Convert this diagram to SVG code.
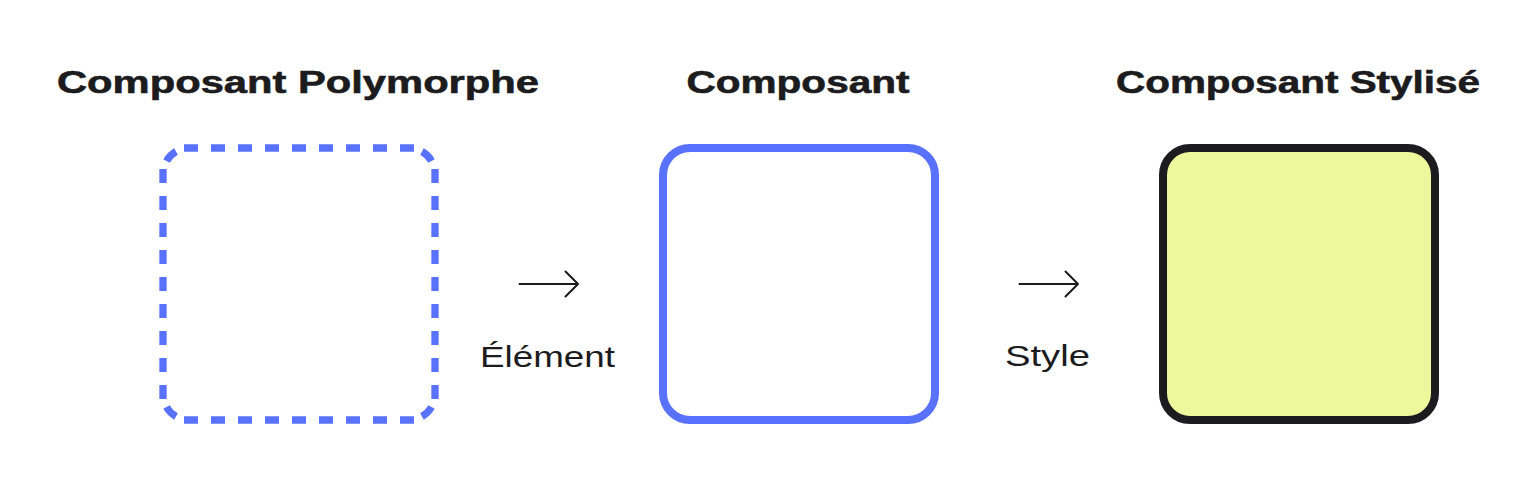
<svg xmlns="http://www.w3.org/2000/svg" width="1540" height="480" viewBox="0 0 1540 480">
  <style>
    .title { font-family: "Liberation Sans", Arial, sans-serif; font-weight: bold; font-size: 32px; fill: #1c1b1d; stroke: #1c1b1d; stroke-width: 0.6; text-anchor: middle; }
    .label { font-family: "Liberation Sans", Arial, sans-serif; font-size: 30px; fill: #1c1b1d; text-anchor: middle; }
    .dash { stroke: #5871ff; stroke-width: 7.3; fill: none; stroke-dasharray: 14 13; }
    .dashc { stroke: #5871ff; stroke-width: 7.3; fill: none; }
    .arrow { stroke: #1c1b1d; stroke-width: 2; fill: none; stroke-linecap: round; stroke-linejoin: round; }
  </style>
  <rect width="1540" height="480" fill="#ffffff"/>

  <g id="node-polymorphe">
    <text class="title" x="298" y="92.5" textLength="482" lengthAdjust="spacingAndGlyphs">Composant Polymorphe</text>
    <line class="dash" x1="184" y1="148" x2="414" y2="148"/>
    <line class="dash" x1="184" y1="420" x2="414" y2="420"/>
    <line class="dash" x1="163" y1="169" x2="163" y2="399"/>
    <line class="dash" x1="435" y1="169" x2="435" y2="399"/>
    <path class="dashc" d="M166.48,161 A26,26 0 0 1 176,151.48"/>
    <path class="dashc" d="M422,151.48 A26,26 0 0 1 431.52,161"/>
    <path class="dashc" d="M431.52,407 A26,26 0 0 1 422,416.52"/>
    <path class="dashc" d="M176,416.52 A26,26 0 0 1 166.48,407"/>
  </g>

  <g id="node-composant">
    <text class="title" x="798" y="92.5" textLength="223" lengthAdjust="spacingAndGlyphs">Composant</text>
    <rect x="663" y="148" width="272" height="272" rx="27" ry="27" fill="#ffffff" stroke="#5871ff" stroke-width="8"/>
  </g>

  <g id="node-stylise">
    <text class="title" x="1298" y="92.5" textLength="364" lengthAdjust="spacingAndGlyphs">Composant Stylisé</text>
    <rect x="1163" y="148" width="272" height="272" rx="27" ry="27" fill="#edf89c" stroke="#1c1b1d" stroke-width="8"/>
  </g>

  <g id="connectors">
    <g id="edge-element">
      <path class="arrow" d="M519.5,284 H578 M565.5,271.5 L578,284 L565.5,296.5"/>
      <text class="label" x="547.5" y="366.5" textLength="135" lengthAdjust="spacingAndGlyphs">Élément</text>
    </g>
    <g id="edge-style">
      <path class="arrow" d="M1019.5,284 H1078 M1065.5,271.5 L1078,284 L1065.5,296.5"/>
      <text class="label" x="1047.5" y="366" textLength="85" lengthAdjust="spacingAndGlyphs">Style</text>
    </g>
  </g>
</svg>
